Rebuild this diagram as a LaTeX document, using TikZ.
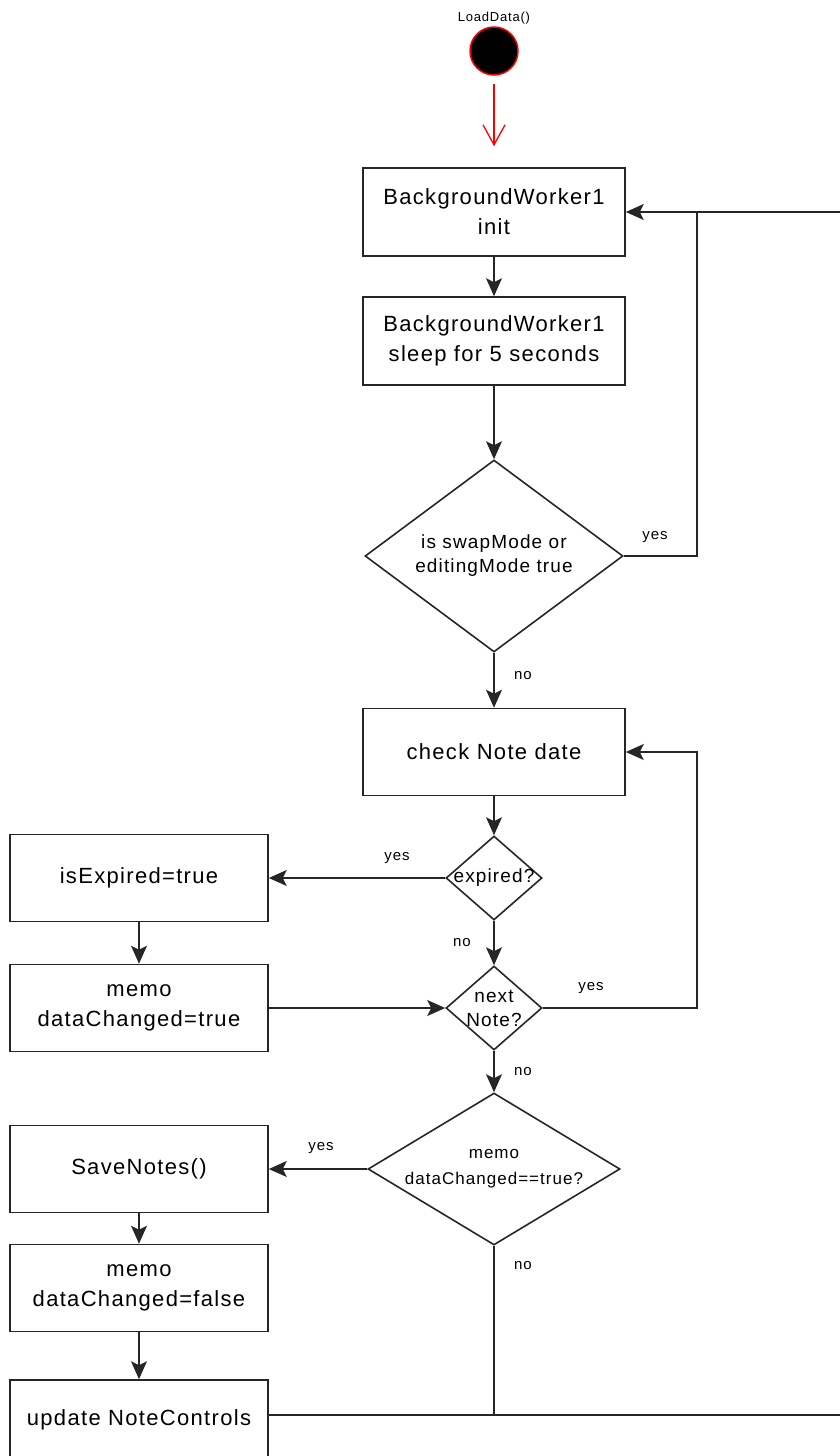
\documentclass[tikz,border=0pt]{standalone}
\usepackage{fontspec}
\setmainfont{Liberation Sans}[LetterSpace=6]
\usepackage{tikz}
\usetikzlibrary{shapes.geometric,arrows.meta}

\begin{document}
\begin{tikzpicture}[x=1pt,y=-1pt,
    flowbox/.style={rectangle,draw=black!85,line width=1.6pt,align=center,inner sep=0,font=\boxfontsize},
    decision/.style={diamond,draw=black!85,line width=1.6pt,inner sep=0},
    decisiontext/.style={align=center,inner sep=0,font=\decisionfontsize},
    flowline/.style={draw=black!85,line width=1.6pt},
    flowarrow/.style={flowline,-{Stealth[length=18pt,width=16pt,inset=4pt]}},
    branchlabel/.style={inner sep=0,font=\labelfontsize}]
    \pgfmathsetmacro{\rightboxwidth}{262}
    \pgfmathsetmacro{\leftboxwidth}{258}
    \pgfmathsetmacro{\boxheight}{87}
    \pgfmathsetmacro{\loopx}{697}
    % \pgfmathsetmacro{\loopx}{700}
    \pgfmathsetmacro{\outerx}{850}
    \providecommand{\boxfontsize}{\fontsize{22}{30}\selectfont}
    \providecommand{\decisionfontsize}{\fontsize{19}{24}\selectfont}
    \providecommand{\labelfontsize}{\fontsize{15}{18}\selectfont}
    \providecommand{\startfontsize}{\fontsize{13}{15}\selectfont}
    \useasboundingbox (0,0) rectangle (840,1456);
    \clip (0,0) rectangle (840,1456);
    \node[circle,draw=red,fill=black,line width=1.5pt,minimum size=48pt,inner sep=0] (start) at (494,51) {};
    \node[inner sep=0,font=\startfontsize] (startlabel) at (494,18) {LoadData()};
    \node[flowbox,minimum width=\rightboxwidth pt,minimum height=88pt] (init) at (494,212) {BackgroundWorker1\\init};
    \node[flowbox,minimum width=\rightboxwidth pt,minimum height=88pt] (sleep) at (494,341) {BackgroundWorker1\\sleep for 5 seconds};
    \node[decision,minimum width=258pt,minimum height=192pt,
        label={[decisiontext]center:{is swapMode or\\editingMode true}}] (swap) at (494,556) {};
    \node[flowbox,minimum width=\rightboxwidth pt,minimum height=\boxheight pt] (check) at (494,752) {check Note date};
    \node[decision,minimum width=96pt,minimum height=84pt,
        label={[decisiontext]center:{expired?}}] (expired) at (494,878) {};
    \node[flowbox,minimum width=\leftboxwidth pt,minimum height=\boxheight pt] (isexpired) at (139,878) {isExpired=true};
    \node[flowbox,minimum width=\leftboxwidth pt,minimum height=\boxheight pt] (memotrue) at (139,1008) {memo\\dataChanged=true};
    \node[decision,minimum width=96pt,minimum height=84pt,
        label={[decisiontext]center:{next\\Note?}}] (nextnote) at (494,1008) {};
    \node[decision,minimum width=252pt,minimum height=152pt,
        label={[decisiontext,font=\fontsize{17}{26}\selectfont]center:{memo\\dataChanged==true?}}] (memocheck) at (494,1169) {};
    \node[flowbox,minimum width=\leftboxwidth pt,minimum height=\boxheight pt] (save) at (139,1169) {SaveNotes()};
    \node[flowbox,minimum width=\leftboxwidth pt,minimum height=\boxheight pt] (memofalse) at (139,1288) {memo\\dataChanged=false};
    \node[flowbox,minimum width=\leftboxwidth pt,minimum height=80pt] (update) at (139,1420) {update NoteControls};
    \coordinate (looptop) at (\outerx,212);
    \coordinate (loopbottom) at (\outerx,1415);
    \coordinate (swapjoin) at (\loopx,212);
    \coordinate (nextjoin) at (\loopx,752);
    \coordinate (memojoin) at (494,1415);
    \draw[red,line width=1.3pt,-{Straight Barb[length=20pt,width=22pt]},shorten <=8pt,shorten >=21pt] (start) -- (init);
    \draw[flowarrow] (init) -- (sleep);
    \draw[flowarrow] (sleep) -- (swap);
    \draw[flowline] (swap.east) -| (swapjoin);
    \node[branchlabel] (swapyes) at (655,537) {yes};
    \draw[flowarrow] (swap) -- (check);
    \node[branchlabel] (swapno) at (523,676) {no};
    \draw[flowarrow] (check) -- (expired);
    \draw[flowarrow] (expired) -- (isexpired);
    \node[branchlabel] (expiredyes) at (397,858) {yes};
    \draw[flowarrow] (expired) -- (nextnote);
    \node[branchlabel] (expiredno) at (462,943) {no};
    \draw[flowarrow] (isexpired) -- (memotrue);
    \draw[flowarrow] (memotrue) -- (nextnote);
    \draw[flowarrow] (nextnote.east) -| (nextjoin) -- (check.east);
    \node[branchlabel] (nextyes) at (591,988) {yes};
    \draw[flowarrow] (nextnote) -- (memocheck);
    \node[branchlabel] (nextno) at (523,1072) {no};
    \draw[flowarrow] (memocheck) -- (save);
    \node[branchlabel] (memoyes) at (321,1148) {yes};
    \draw[flowarrow] (save) -- (memofalse);
    \draw[flowarrow] (memofalse) -- (update);
    \draw[flowline] (memocheck.south) -- (memojoin);
    \node[branchlabel] (memono) at (523,1266) {no};
    \draw[flowarrow] (update.east |- memojoin) -- (loopbottom) -- (looptop) -- (init.east);
\end{tikzpicture}
\end{document}
